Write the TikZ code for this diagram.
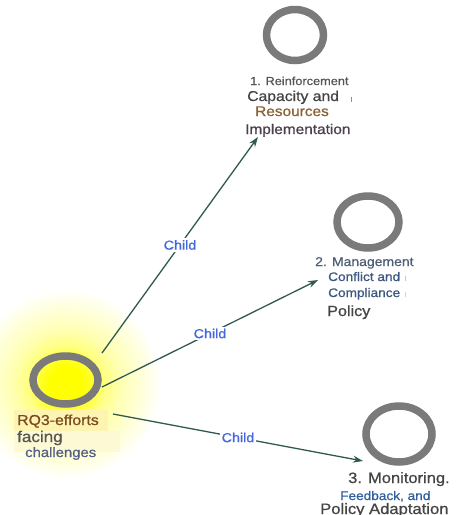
\documentclass[tikz,border=0pt]{standalone}
\usepackage{fontspec}
\setmainfont[FakeStretch=1.1,FakeBold=0.8]{Liberation Sans}
\usetikzlibrary{arrows.meta,shapes.geometric}

% palette
\definecolor{ringgray}{HTML}{7A7A7A}
\definecolor{edgeteal}{HTML}{2F5A52}
\definecolor{childblue}{HTML}{4466DD}
\definecolor{darktext}{HTML}{444444}
\definecolor{midtext}{HTML}{555555}
\definecolor{plumgray}{HTML}{4B3F4B}
\definecolor{tanbrown}{HTML}{8A6235}
\definecolor{rustbrown}{HTML}{7A4A20}
\definecolor{slate}{HTML}{4F5F78}
\definecolor{slateblue}{HTML}{3D5780}
\definecolor{steelblue}{HTML}{2F5F9F}
\definecolor{duskblue}{HTML}{55608A}
\definecolor{markblue}{HTML}{7090D0}
\definecolor{glowcore}{HTML}{FFFF00}
\definecolor{glowhot}{HTML}{FFFF30}
\definecolor{glowmid}{HTML}{FFFF80}
\definecolor{glowpale}{HTML}{FFFFB0}
\definecolor{glowfaint}{HTML}{FFFFCC}
\definecolor{glowedge}{HTML}{FFFFE8}
\definecolor{hlstrong}{HTML}{FCF4B0}
\definecolor{hlsoft}{HTML}{FDF9D4}

% soft yellow halo around the root topic (25bp reaches the circle's rim)
\pgfdeclareradialshading{rootglow}{\pgfpoint{0bp}{0bp}}{%
  color(0bp)=(glowcore); color(4.5bp)=(glowcore); color(7bp)=(glowhot);
  color(10bp)=(glowmid); color(14bp)=(glowpale); color(18bp)=(glowfaint);
  color(22bp)=(glowedge); color(25bp)=(white); color(50bp)=(white)}

\newcommand\txtsize[1]{\fontsize{#1}{#1}\selectfont}

\begin{document}
\begin{tikzpicture}[x=1pt,y=-1pt,
  ring/.style={ellipse, draw=ringgray, line width=7.5pt, inner sep=0pt},
  line/.style={inner sep=0pt, anchor=base west},
  edge/.style={draw=edgeteal, line width=1.3pt,
    -{Stealth[length=10pt,width=7pt]}},
  lbl/.style={fill=white, inner sep=2pt, text=childblue, font=\txtsize{13}}]
\useasboundingbox (0,0) rectangle (462,515);

% halo and text highlights of the root topic
\shade[shading=rootglow] (66,384) circle (95);
\fill[hlstrong] (14,410) rectangle (108,431);
\fill[hlsoft] (14,431) rectangle (120,452);

% topic rings
\node[ring, minimum width=65pt, minimum height=48pt] (root) at (65.5,380) {};
\node[ring, minimum width=57pt, minimum height=51pt] (c1) at (295,35) {};
\node[ring, minimum width=62pt, minimum height=52pt] (c2) at (368,222) {};
\node[ring, minimum width=66pt, minimum height=56pt] (c3) at (399,434) {};

% root topic text
\node[line, text=rustbrown, font=\txtsize{14.4}] (r-a) at (17,425) {RQ3-efforts};
\node[line, text=midtext, font=\txtsize{15.5}] (r-b) at (17,442) {facing};
\node[line, text=duskblue, font=\txtsize{13.5}] (r-c) at (25,457) {challenges};

% child 1 text
\node[line, text=midtext, font=\txtsize{11.6}] (t1-a) at (250,85) {1. Reinforcement};
\node[line, text=darktext, font=\txtsize{14.3}] (t1-b) at (247,101) {Capacity and};
\node[line, text=tanbrown, font=\txtsize{14}] (t1-c) at (255,116) {Resources};
\node[line, text=plumgray, font=\txtsize{14}] (t1-d) at (245,134) {Implementation};

% child 2 text
\node[line, text=slate, font=\txtsize{12.7}] (t2-a) at (315,266) {2. Management};
\node[line, text=slateblue, font=\txtsize{12.4}] (t2-b) at (328,281) {Conflict and};
\node[line, text=slateblue, font=\txtsize{12.4}] (t2-c) at (328,297) {Compliance};
\node[line, text=darktext, font=\txtsize{14.7}] (t2-d) at (327,316) {Policy};

% child 3 text
\node[line, text=darktext, font=\txtsize{15}] (t3-a) at (348,483) {3. Monitoring.};
\node[line, text=steelblue, font=\txtsize{12.4}] (t3-b) at (340,500) {Feedback, and};
\node[line, text=darktext, font=\txtsize{15.1}] (t3-c) at (320,514) {Policy Adaptation};

% small cursor marks beside the child texts
\draw[markblue, line width=1pt] (351,97) -- (351,102);
\draw[markblue!50, line width=0.8pt] (405,276) -- (405,281);
\draw[markblue!40, line width=0.8pt] (405,292) -- (405,297);

% connector end points on the rings and below the child texts
\coordinate (o1) at (102,353);
\coordinate (o2) at (102,387);
\coordinate (o3) at (113,414);
\coordinate (i1) at (258,137);
\coordinate (i2) at (318,280);
\coordinate (i3) at (363,461);

% connectors
\draw[edge] (o1) -- node[lbl] {Child} (i1);
\draw[edge] (o2) -- node[lbl] {Child} (i2);
\draw[edge] (o3) -- node[lbl] {Child} (i3);
\end{tikzpicture}
\end{document}
